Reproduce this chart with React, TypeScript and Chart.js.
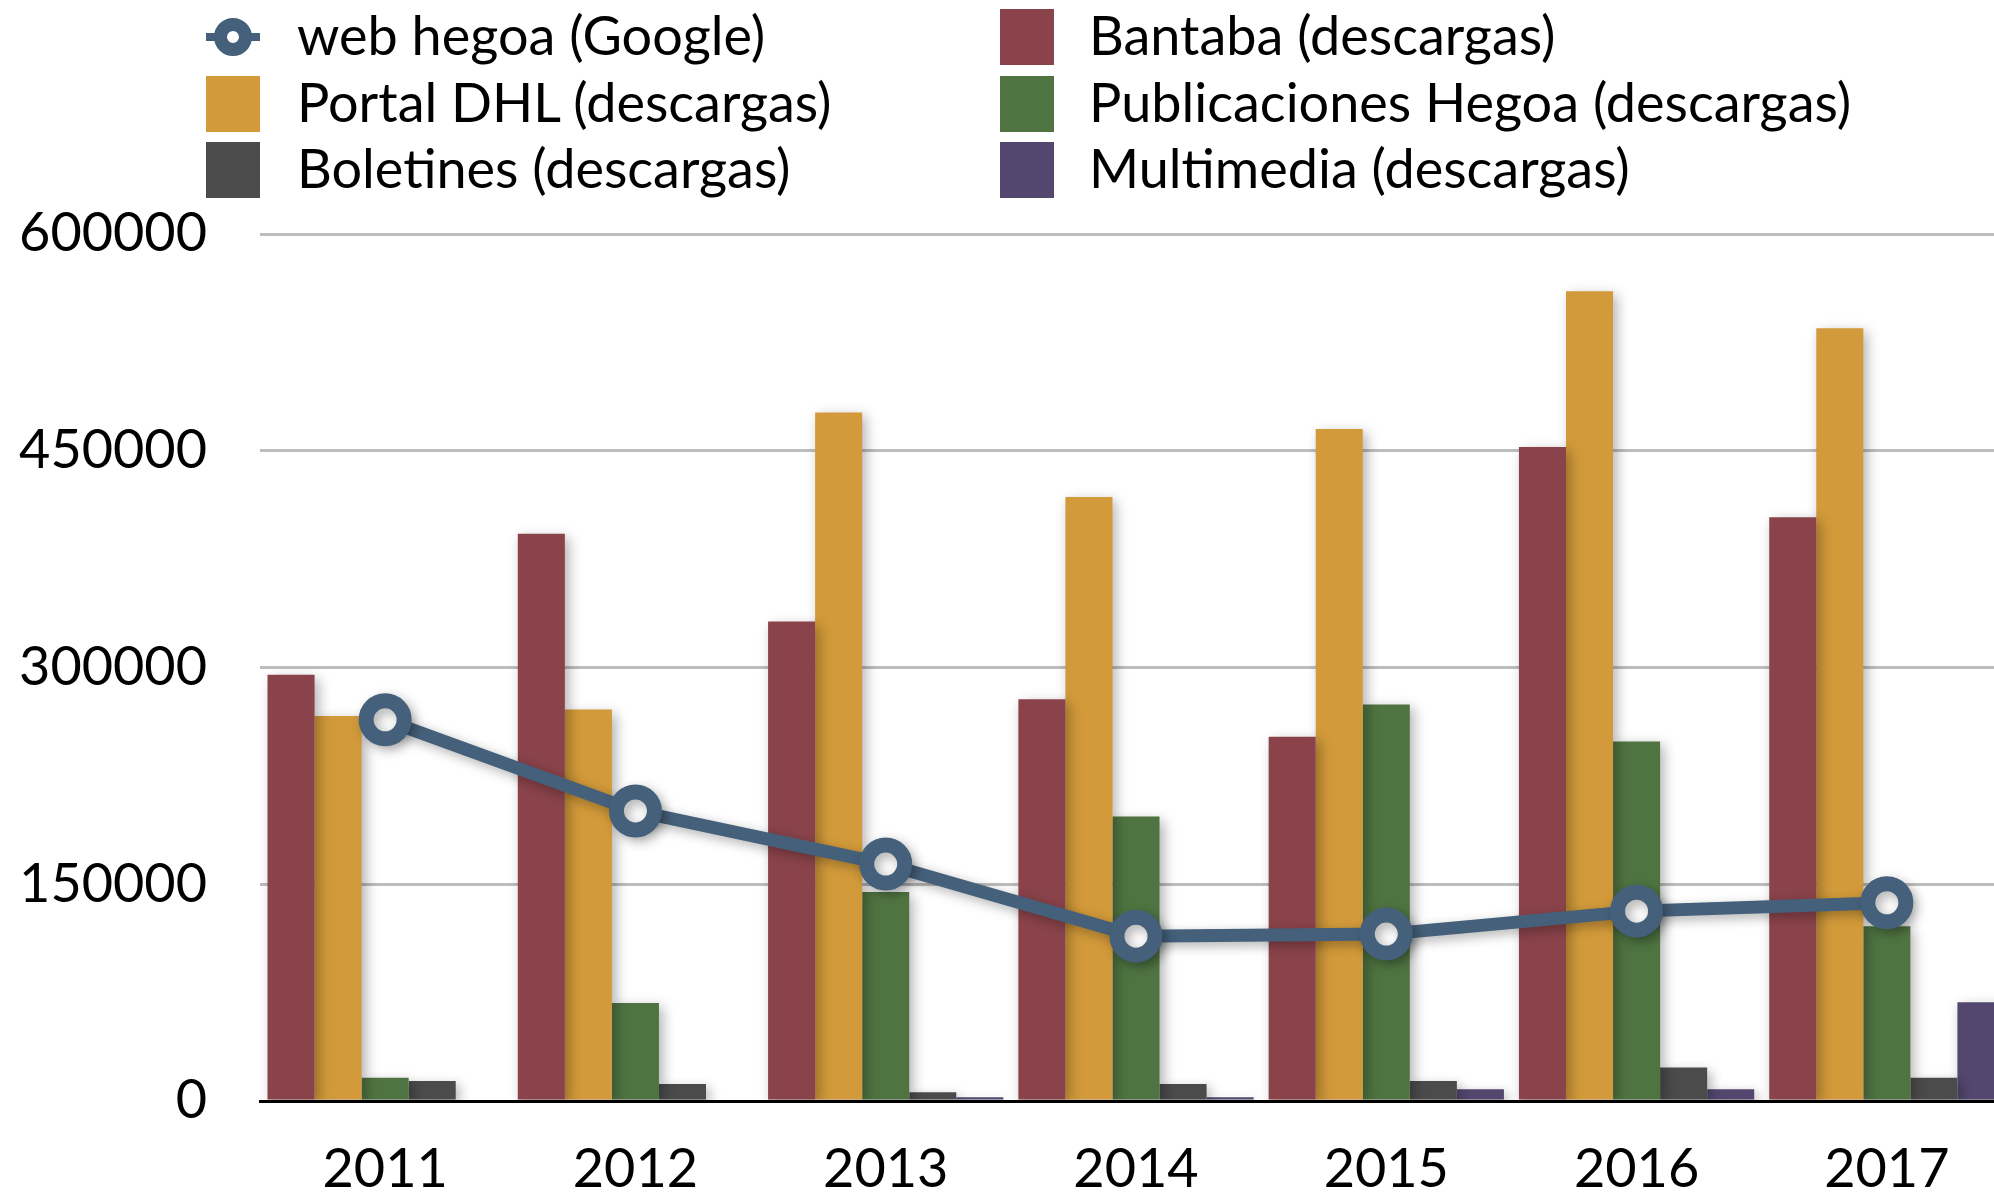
import React, { useEffect, useRef } from "react";
import { Chart, registerables } from "chart.js";

Chart.register(...registerables);

const years = ["2011", "2012", "2013", "2014", "2015", "2016", "2017"];
const webHegoa = [263800, 200700, 164000, 114100, 115500, 131400, 137200];
const bantaba = [295000, 392600, 331800, 278000, 252000, 452600, 404000];
const portalDHL = [266500, 270900, 476500, 418000, 465000, 560300, 534700];
const publicaciones = [16100, 67900, 144700, 196800, 274400, 248800, 120900];
const boletines = [13800, 11700, 6100, 11700, 13800, 23200, 16100];
const multimedia = [0, 0, 2600, 2600, 8200, 8200, 68300];
const yTicks = [0, 150000, 300000, 450000, 600000];

const LINE_COLOR = "#45607a";
const COLORS = {
  bantaba: "#8a434a",
  portal: "#d29a3a",
  pub: "#4f7441",
  bol: "#4b4b4b",
  multi: "#53476f",
};
const FONT = "Lato, 'Open Sans', sans-serif";
const FONT_SIZE = 54;

const legendItems = [
  { label: "web hegoa (Google)", color: LINE_COLOR, line: true, col: 0, row: 0 },
  { label: "Bantaba (descargas)", color: COLORS.bantaba, col: 1, row: 0 },
  { label: "Portal DHL (descargas)", color: COLORS.portal, col: 0, row: 1 },
  { label: "Publicaciones Hegoa (descargas)", color: COLORS.pub, col: 1, row: 1 },
  { label: "Boletines (descargas)", color: COLORS.bol, col: 0, row: 2 },
  { label: "Multimedia (descargas)", color: COLORS.multi, col: 1, row: 2 },
];

const shadowPlugin = {
  id: "softShadow",
  beforeDatasetDraw(chart: any) {
    const ctx = chart.ctx;
    ctx.save();
    ctx.shadowColor = "rgba(0,0,0,0.3)";
    ctx.shadowBlur = 12;
    ctx.shadowOffsetX = 4;
    ctx.shadowOffsetY = 4;
  },
  afterDatasetDraw(chart: any) {
    chart.ctx.restore();
  },
};

export default function App() {
  const ref = useRef<HTMLCanvasElement | null>(null);

  useEffect(() => {
    if (!ref.current) return;
    const font = { family: FONT, size: FONT_SIZE };
    const chart = new Chart(ref.current, {
      type: "bar",
      data: {
        labels: years,
        datasets: [
          {
            type: "line",
            label: "web hegoa (Google)",
            data: webHegoa,
            borderColor: LINE_COLOR,
            borderWidth: 13,
            pointRadius: 19,
            pointBorderWidth: 15,
            pointBackgroundColor: "#ffffff",
            pointBorderColor: LINE_COLOR,
            tension: 0,
            order: 0,
          } as any,
          { label: "Bantaba (descargas)", data: bantaba, backgroundColor: COLORS.bantaba, order: 1 },
          { label: "Portal DHL (descargas)", data: portalDHL, backgroundColor: COLORS.portal, order: 1 },
          { label: "Publicaciones Hegoa (descargas)", data: publicaciones, backgroundColor: COLORS.pub, order: 1 },
          { label: "Boletines (descargas)", data: boletines, backgroundColor: COLORS.bol, order: 1 },
          { label: "Multimedia (descargas)", data: multimedia, backgroundColor: COLORS.multi, order: 1 },
        ],
      },
      options: {
        responsive: false,
        animation: false,
        devicePixelRatio: 1,
        layout: { autoPadding: false, padding: { top: 234, left: 0, right: 0, bottom: 0 } },
        datasets: {
          bar: { categoryPercentage: 0.94, barPercentage: 1 },
        },
        plugins: {
          legend: { display: false },
          tooltip: { enabled: false },
        },
        scales: {
          x: {
            grid: { display: false, drawTicks: false },
            border: { display: true, color: "#000000", width: 3 },
            ticks: { font, color: "#000000", padding: 36 },
            afterFit(scale: any) {
              scale.height = 96;
              scale.paddingLeft = 0;
              scale.paddingRight = 0;
            },
          },
          y: {
            min: 0,
            max: 600000,
            afterBuildTicks(scale: any) {
              scale.ticks = yTicks.map((v) => ({ value: v }));
            },
            grid: { color: "#bdbdbd", lineWidth: 3, drawTicks: false },
            border: { display: false },
            ticks: {
              font,
              color: "#000000",
              padding: 53,
              callback: (v: any) => String(v),
            },
            afterFit(scale: any) {
              scale.width = 260;
            },
          },
        },
      },
      plugins: [shadowPlugin],
    });
    return () => chart.destroy();
  }, []);

  const colLeft = [206, 1000];
  const textLeft = [297, 1089];
  const rowCenter = [37, 104, 170];

  return (
    <div
      style={{
        position: "fixed",
        left: 0,
        top: 0,
        width: 1994,
        height: 1197,
        overflow: "hidden",
        background: "#ffffff",
      }}
    >
      <canvas ref={ref} width={2012} height={1197} style={{ width: 2012, height: 1197, display: "block" }} />
      {legendItems.map((it) => (
        <React.Fragment key={it.label}>
          {it.line ? (
            <svg
              width={54}
              height={42}
              style={{ position: "absolute", left: colLeft[it.col], top: rowCenter[it.row] - 21 }}
            >
              <line x1={0} y1={21} x2={54} y2={21} stroke={it.color} strokeWidth={8} />
              <circle cx={27} cy={21} r={12.5} stroke={it.color} strokeWidth={13} fill="#ffffff" />
            </svg>
          ) : (
            <div
              style={{
                position: "absolute",
                left: colLeft[it.col],
                top: rowCenter[it.row] - 28,
                width: 54,
                height: 56,
                background: it.color,
              }}
            />
          )}
          <div
            style={{
              position: "absolute",
              left: textLeft[it.col],
              top: rowCenter[it.row] - 34,
              fontFamily: FONT,
              fontSize: FONT_SIZE,
              lineHeight: "1.2",
              color: "#000000",
              whiteSpace: "nowrap",
            }}
          >
            {it.label}
          </div>
        </React.Fragment>
      ))}
    </div>
  );
}
